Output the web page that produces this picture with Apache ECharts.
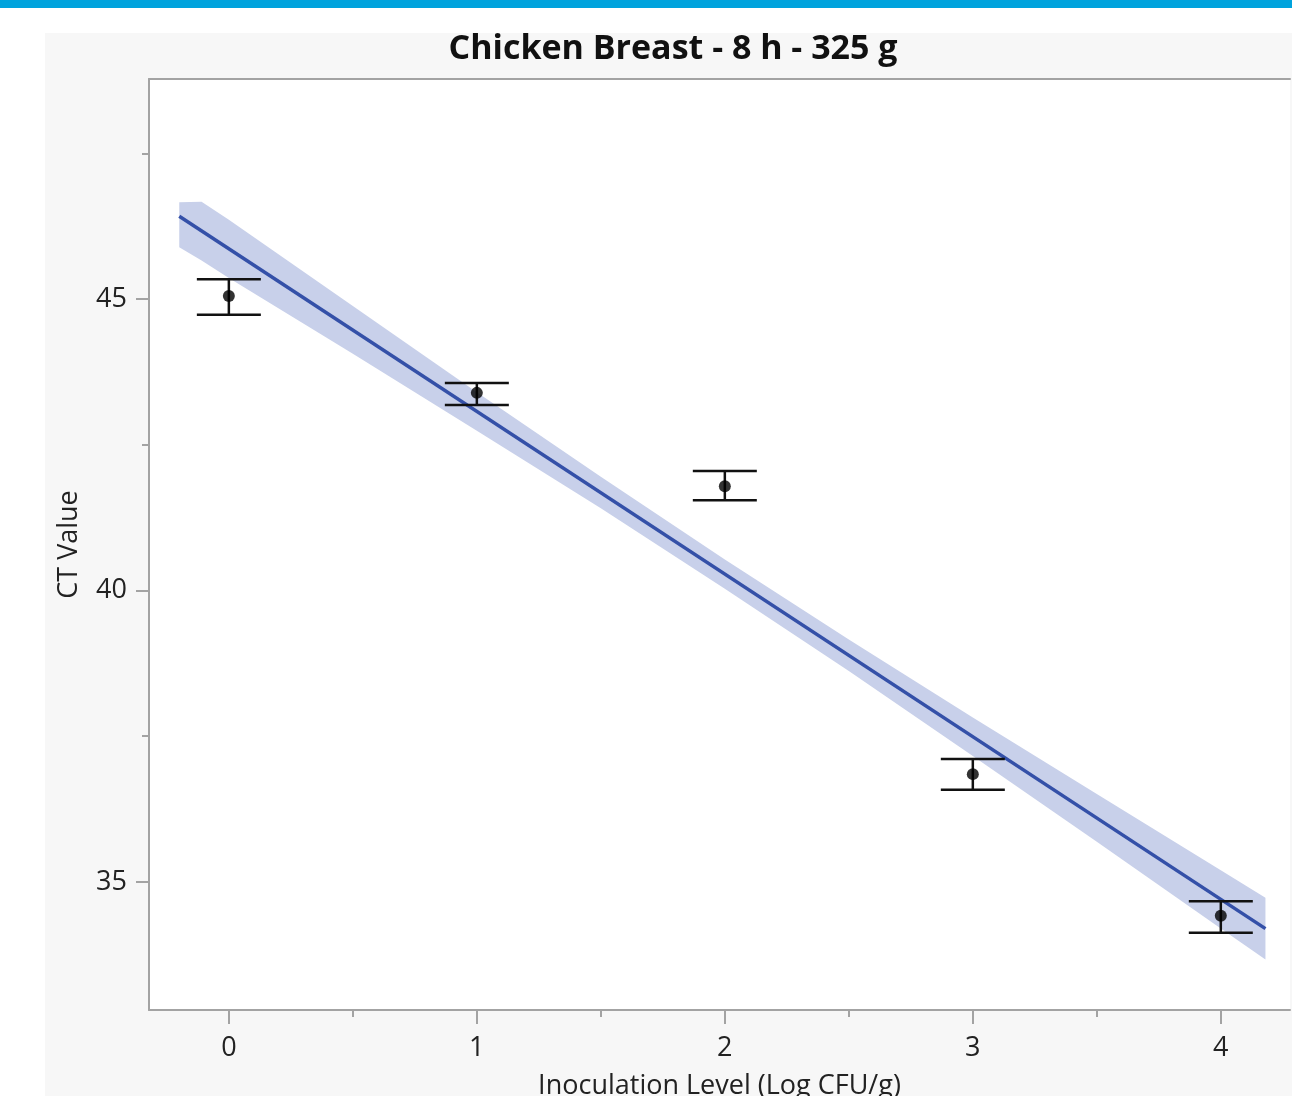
<!DOCTYPE html>
<html><head><meta charset="utf-8">
<script src="https://cdn.jsdelivr.net/npm/echarts@6/dist/echarts.min.js"></script>
<style>html,body{margin:0;padding:0;background:#fff}#c{width:1292px;height:1096px}</style>
</head><body><div id="c"></div>
<script>
// Data
var levels = [0, 1, 2, 3, 4];
var meanCT = [45.05, 43.39, 41.79, 36.85, 34.42];
var lowCT  = [44.73, 43.18, 41.55, 36.58, 34.13];
var highCT = [45.34, 43.56, 42.05, 37.11, 34.67];
var fitX = [-0.2, 4.18];
var fitY = [46.42, 34.20];
var bandX     = [-0.2, -0.11, 0, 0.5, 1, 1.5, 2, 2.5, 3, 3.5, 4, 4.18];
var bandUpper = [46.66, 46.67, 46.36, 44.88, 43.40, 41.95, 40.53, 39.16, 37.82, 36.51, 35.20, 34.73];
var bandLower = [45.89, 45.66, 45.36, 44.06, 42.74, 41.41, 40.03, 38.62, 37.16, 35.69, 34.20, 33.67];
var yMajorTicks = [35, 40, 45];
var yMinorTicks = [37.5, 42.5, 47.5];
var xMajorTicks = [0, 1, 2, 3, 4];
var xMinorTicks = [0.5, 1.5, 2.5, 3.5];
var titleText = 'Chicken Breast - 8 h - 325 g';
var xName = 'Inoculation Level (Log CFU/g)';
var yName = 'CT Value';

var FONT = '"Open Sans", "Noto Sans", sans-serif';
var chart = echarts.init(document.getElementById('c'), null, {renderer: 'canvas'});
var axisGray = '#a3a3a3';
var XMIN = -0.322, XMAX = 4.279, YMIN = 32.804, YMAX = 48.774;

chart.setOption({
  backgroundColor: '#ffffff',
  animation: false,
  graphic: [
    {type: 'rect', shape: {x: 0, y: 0, width: 1292, height: 8}, style: {fill: '#00a3dd'}, z: -10},
    {type: 'rect', shape: {x: 45, y: 33, width: 1247, height: 1063}, style: {fill: '#f7f7f7'}, z: -10},
    {type: 'rect', shape: {x: 149, y: 79, width: 1141, height: 931}, style: {fill: '#ffffff'}, z: -9}
  ],
  title: {
    text: titleText, left: 668, top: 27, textAlign: 'center',
    textStyle: {fontFamily: FONT, fontWeight: 'bold', fontSize: 34, color: '#111'}
  },
  grid: [{left: 149, top: 79, width: 1141, height: 931, containLabel: false, outerBoundsMode: 'none'}],
  xAxis: [{
    type: 'value', min: XMIN, max: XMAX, position: 'bottom',
    name: xName, nameLocation: 'middle', nameGap: 63,
    nameTextStyle: {fontFamily: FONT, fontSize: 27, color: '#222'},
    axisLine: {show: true, onZero: false, lineStyle: {color: axisGray, width: 2}},
    axisTick: {show: true, customValues: xMajorTicks, length: 14, lineStyle: {color: axisGray, width: 2}},
    axisLabel: {show: true, customValues: xMajorTicks, fontFamily: FONT, fontSize: 27, color: '#222', margin: 25},
    splitLine: {show: false}
  }, {
    type: 'value', min: XMIN, max: XMAX, position: 'bottom',
    axisLine: {show: false, onZero: false},
    axisTick: {show: true, customValues: xMinorTicks, length: 7, lineStyle: {color: axisGray, width: 2}},
    axisLabel: {show: false}, splitLine: {show: false}
  }, {
    type: 'value', min: XMIN, max: XMAX, position: 'top',
    axisLine: {show: true, onZero: false, lineStyle: {color: axisGray, width: 2}},
    axisTick: {show: false}, axisLabel: {show: false}, splitLine: {show: false}
  }],
  yAxis: [{
    type: 'value', min: YMIN, max: YMAX, position: 'left',
    name: yName, nameLocation: 'middle', nameGap: 66, nameRotate: 90,
    nameTextStyle: {fontFamily: FONT, fontSize: 27, color: '#222'},
    axisLine: {show: true, onZero: false, lineStyle: {color: axisGray, width: 2}},
    axisTick: {show: true, customValues: yMajorTicks, length: 13, lineStyle: {color: axisGray, width: 2}},
    axisLabel: {show: true, customValues: yMajorTicks, fontFamily: FONT, fontSize: 27, color: '#222', margin: 22},
    splitLine: {show: false}
  }, {
    type: 'value', min: YMIN, max: YMAX, position: 'left',
    axisLine: {show: false, onZero: false},
    axisTick: {show: true, customValues: yMinorTicks, length: 7, lineStyle: {color: axisGray, width: 2}},
    axisLabel: {show: false}, splitLine: {show: false}
  }],
  series: [{
    type: 'custom', name: 'band', xAxisIndex: 0, yAxisIndex: 0, clip: true, z: 1,
    data: bandX.map(function (x, i) { return [x, bandUpper[i], bandLower[i]]; }),
    renderItem: function (params, api) {
      if (params.dataIndex !== 0) return null;
      var pts = [], i;
      for (i = 0; i < bandX.length; i++) pts.push(api.coord([bandX[i], bandUpper[i]]));
      for (i = bandX.length - 1; i >= 0; i--) pts.push(api.coord([bandX[i], bandLower[i]]));
      return {type: 'polygon', shape: {points: pts}, style: {fill: '#c8d0ea'}};
    }
  }, {
    type: 'line', name: 'fit', xAxisIndex: 0, yAxisIndex: 0, z: 2,
    data: fitX.map(function (x, i) { return [x, fitY[i]]; }),
    symbol: 'none', lineStyle: {color: '#3450a8', width: 3.5}
  }, {
    type: 'custom', name: 'err', xAxisIndex: 0, yAxisIndex: 0, z: 3,
    data: levels.map(function (x, i) { return [x, lowCT[i], highCT[i]]; }),
    renderItem: function (params, api) {
      var lo = api.coord([api.value(0), api.value(1)]);
      var hi = api.coord([api.value(0), api.value(2)]);
      var hw = 32;
      var st = {stroke: '#111', lineWidth: 2.5};
      return {type: 'group', children: [
        {type: 'line', shape: {x1: lo[0], y1: lo[1], x2: hi[0], y2: hi[1]}, style: st},
        {type: 'line', shape: {x1: lo[0] - hw, y1: lo[1], x2: lo[0] + hw, y2: lo[1]}, style: st},
        {type: 'line', shape: {x1: hi[0] - hw, y1: hi[1], x2: hi[0] + hw, y2: hi[1]}, style: st}
      ]};
    }
  }, {
    type: 'scatter', name: 'mean', xAxisIndex: 0, yAxisIndex: 0, z: 4,
    data: levels.map(function (x, i) { return [x, meanCT[i]]; }),
    symbol: 'circle', symbolSize: 12, itemStyle: {color: '#000'}
  }]
});
</script></body></html>
